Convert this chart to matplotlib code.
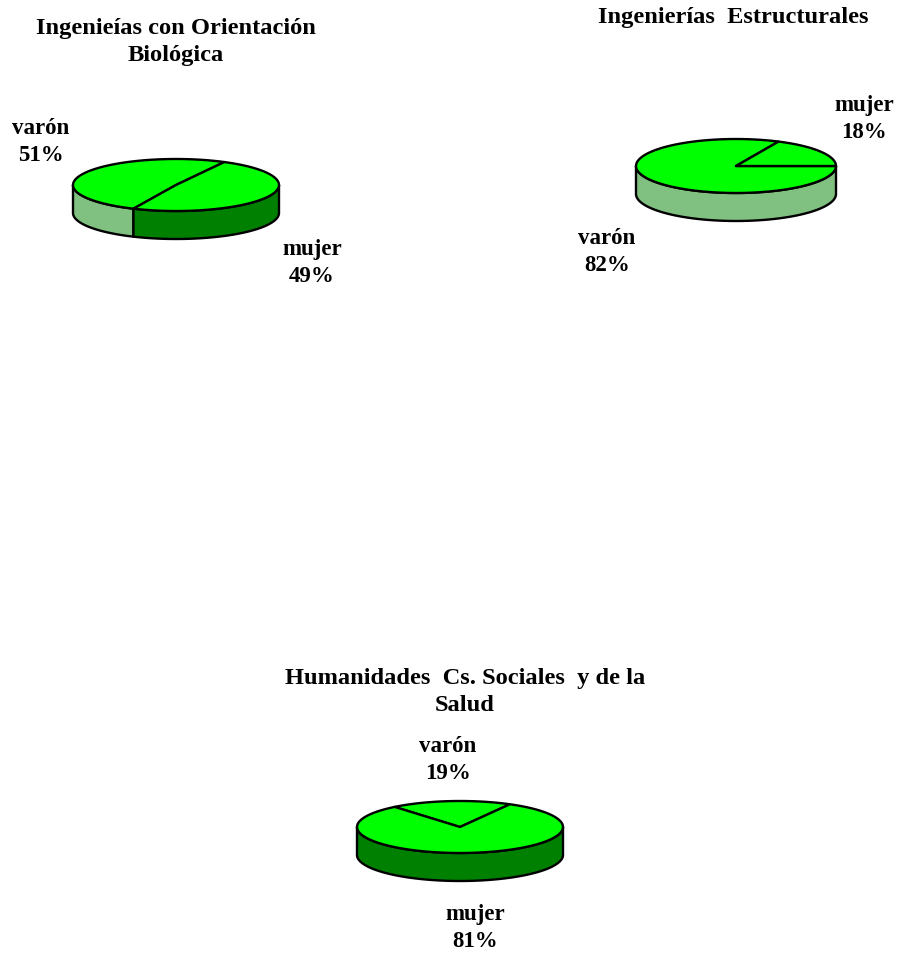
import numpy as np
import matplotlib
matplotlib.use("Agg")
import matplotlib.pyplot as plt
from matplotlib.patches import Polygon

# share of each sex per area
titles = ["Ingenieías con Orientación\nBiológica",
          "Ingenierías  Estructurales",
          "Humanidades  Cs. Sociales  y de la\nSalud"]
varon_pct = [51, 82, 19]
mujer_pct = [49, 18, 81]
varon_start = [62.0, 64.8, 61.0]   # angle where the varón slice begins (deg, ccw)

TOP = "#00ff00"
SIDE = {"varon": "#80c080", "mujer": "#008000"}

# pie placement in pixels (centre x, centre y, x radius, y radius, depth)
layout = [(176, 186, 103, 26, 28),
          (736, 167, 100, 27, 28),
          (460, 828, 103, 26, 28)]
title_pos = [(176, 42), (733, 18), (465, 692)]
label_pos = [((41, 142), (312, 263)),
             ((607, 252), (864, 119)),
             ((448, 760), (475, 928))]

fig = plt.figure(figsize=(8.99, 9.54), dpi=100)
ax = fig.add_axes([0, 0, 1, 1])
ax.set_xlim(0, 899)
ax.set_ylim(954, 0)
ax.axis("off")

title_font = dict(family="Liberation Serif", fontweight="bold", fontsize=17.6)
label_font = dict(family="Liberation Serif", fontweight="bold", fontsize=16.5)


def arc(cx, cy, rx, ry, a0, a1, dy=0, n=80):
    t = np.radians(np.linspace(a0, a1, n))
    return np.column_stack([cx + rx * np.cos(t), cy - ry * np.sin(t) + dy])


def draw_pie(i):
    cx, cy, rx, ry, d = layout[i]
    v = varon_pct[i] / 100 * 360
    m = mujer_pct[i] / 100 * 360
    s = varon_start[i]
    slices = [("varon", s, s + v), ("mujer", s + v, s + v + m)]

    # front wall of the disc
    for name, a0, a1 in slices:
        for k in (-360, 0, 360):
            lo, hi = max(a0, 180 + k), min(a1, 360 + k)
            if hi <= lo:
                continue
            topc = arc(cx, cy, rx, ry, lo, hi)
            botc = arc(cx, cy, rx, ry, hi, lo, dy=d)
            ax.add_patch(Polygon(np.vstack([topc, botc]), closed=True,
                                 facecolor=SIDE[name], edgecolor="black",
                                 lw=1.7, joinstyle="round"))

    # top face
    for name, a0, a1 in slices:
        pts = np.vstack([[cx, cy], arc(cx, cy, rx, ry, a0, a1)])
        ax.add_patch(Polygon(pts, closed=True, facecolor=TOP,
                             edgecolor="black", lw=1.7, joinstyle="round"))

    tx, ty = title_pos[i]
    ax.text(tx, ty, titles[i], ha="center", va="center", linespacing=1.4,
            **title_font)
    (vx, vy), (mx, my) = label_pos[i]
    ax.text(vx, vy, f"varón\n{varon_pct[i]}%", ha="center", va="center",
            linespacing=1.4, **label_font)
    ax.text(mx, my, f"mujer\n{mujer_pct[i]}%", ha="center", va="center",
            linespacing=1.4, **label_font)


for i in range(3):
    draw_pie(i)

fig.savefig("out.png", dpi=100, facecolor="white")
